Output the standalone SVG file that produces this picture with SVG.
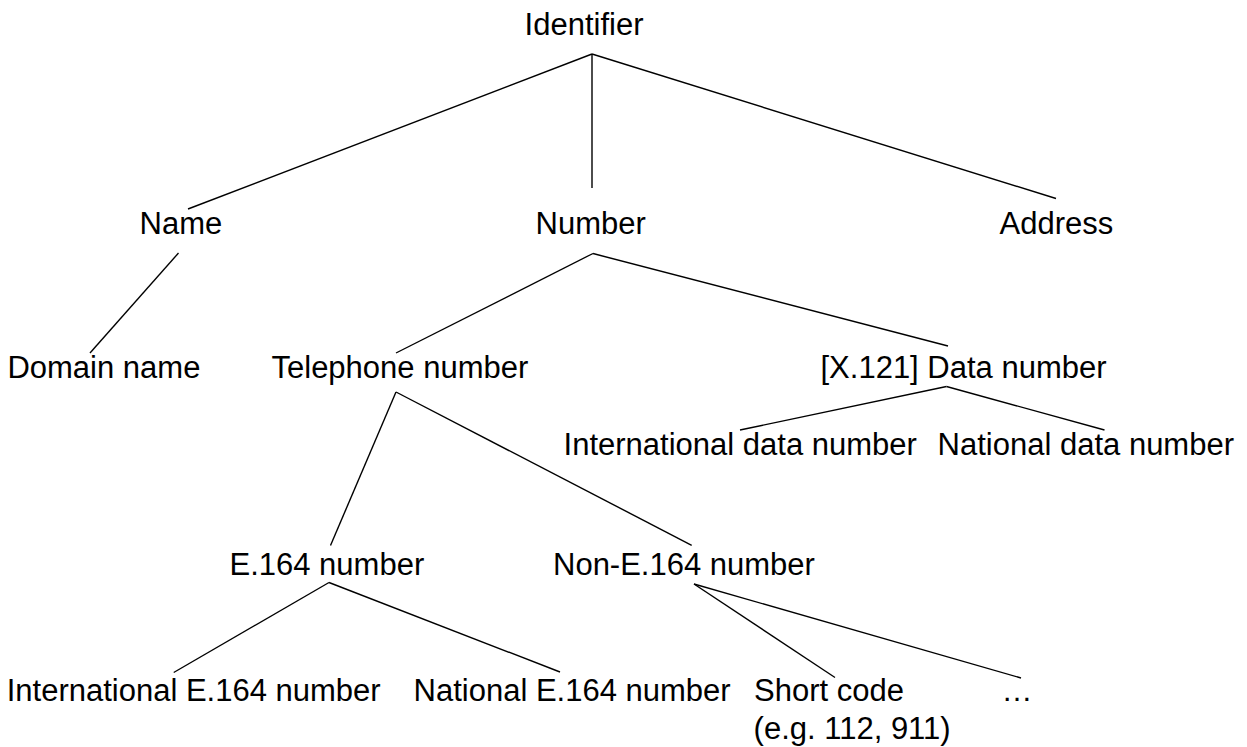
<svg xmlns="http://www.w3.org/2000/svg" width="1247" height="747" viewBox="0 0 1247 747">
<style>
text{font-family:"Liberation Sans",Arial,sans-serif;font-size:31px;fill:#000}
.c line{stroke:#000;stroke-width:1.4;fill:none}
</style>
<rect width="1247" height="747" fill="#fff"/>
<g class="c" id="connectors">
<line x1="592" y1="54" x2="188" y2="209"/>
<line x1="592" y1="54" x2="592" y2="188"/>
<line x1="592" y1="54" x2="1056" y2="198.5"/>
<line x1="178.5" y1="253" x2="90" y2="353"/>
<line x1="593" y1="253.5" x2="396" y2="353"/>
<line x1="593" y1="253.5" x2="948" y2="346"/>
<line x1="946.5" y1="386.5" x2="740" y2="430"/>
<line x1="946.5" y1="386.5" x2="1104.5" y2="430"/>
<line x1="396" y1="392" x2="330.5" y2="545.5"/>
<line x1="396" y1="392" x2="691.7" y2="545.3"/>
<line x1="329" y1="582.5" x2="173.7" y2="672.5"/>
<line x1="329" y1="582.5" x2="560" y2="672"/>
<line x1="694" y1="584" x2="835" y2="677.5"/>
<line x1="694" y1="584" x2="1021" y2="678"/>
</g>
<g id="identifier"><text x="524.6" y="35">Identifier</text></g>
<g id="name"><text x="139.6" y="234">Name</text></g>
<g id="number"><text x="535.6" y="234">Number</text></g>
<g id="address"><text x="999.5" y="234">Address</text></g>
<g id="domain-name"><text x="7.4" y="378">Domain name</text></g>
<g id="telephone-number"><text x="271.5" y="378">Telephone number</text></g>
<g id="data-number"><text x="820.5" y="378">[X.121] Data number</text></g>
<g id="intl-data-number"><text x="563.6" y="455">International data number</text></g>
<g id="natl-data-number"><text x="937.6" y="455">National data number</text></g>
<g id="e164-number"><text x="229.5" y="575">E.164 number</text></g>
<g id="non-e164-number"><text x="553" y="575">Non-E.164 number</text></g>
<g id="intl-e164-number"><text x="6.7" y="701">International E.164 number</text></g>
<g id="natl-e164-number"><text x="413.6" y="701">National E.164 number</text></g>
<g id="short-code"><text x="754" y="701">Short code</text><text x="753.6" y="739">(e.g. 112, 911)</text></g>
<g id="ellipsis"><text x="1001.4" y="701">…</text></g>
</svg>
